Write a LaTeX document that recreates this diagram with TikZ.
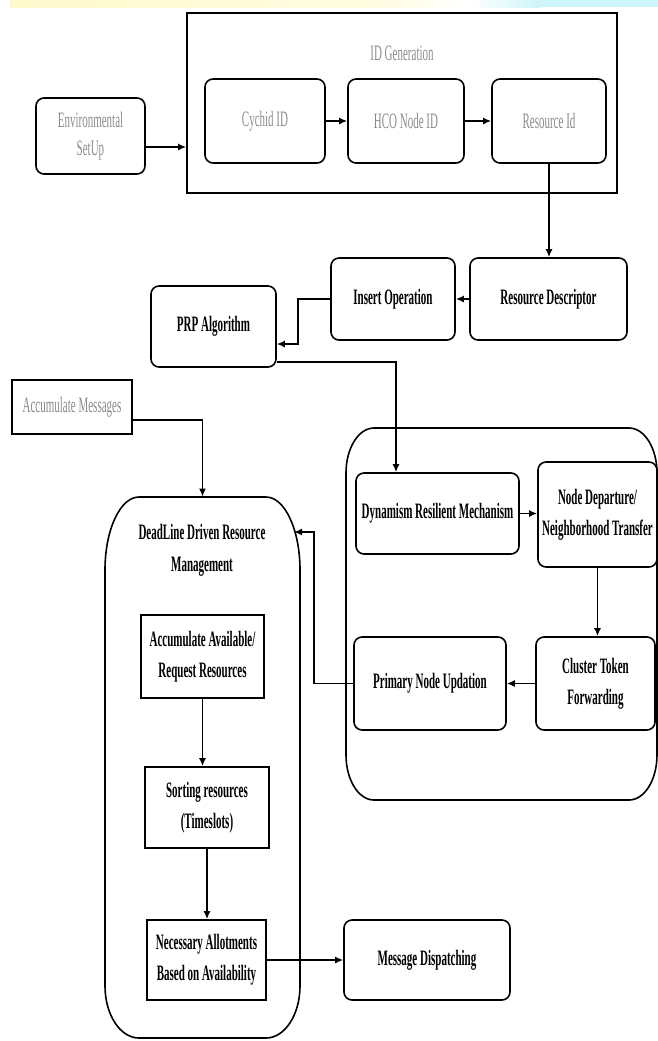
\documentclass[tikz,border=0pt]{standalone}
\usepackage{fontspec}
\setmainfont{Liberation Serif}[FakeStretch=0.5]
\usetikzlibrary{arrows.meta}
\definecolor{labelgray}{RGB}{140,140,140}
\definecolor{banneryellow}{RGB}{255,250,205}
\definecolor{bannercyan}{RGB}{205,245,250}
\tikzset{
  box/.style={draw, line width=0.8pt, rounded corners=4pt, align=center, inner sep=0pt,
    font=\bfseries\fontsize{11}{15.5}\selectfont},
  plainbox/.style={box, rounded corners=0pt},
  greytext/.style={text=labelgray, font=\fontsize{11}{14}\selectfont},
  link/.style={line width=0.8pt, -{Latex[length=4pt,width=3.5pt]}},
  boldlink/.style={line width=1.3pt},
}
\begin{document}
\begin{tikzpicture}[x=0.5pt,y=-0.5pt]
  \useasboundingbox (0,0) rectangle (658,1041);
  \shade[left color=banneryellow, right color=banneryellow!60] (10,0) rectangle (380,7);
  \shade[left color=banneryellow!60, right color=white] (380,0) rectangle (470,7);
  \shade[left color=white, right color=bannercyan] (470,0) rectangle (540,7);
  \fill[bannercyan] (540,0) rectangle (658,7);
  \node[plainbox, minimum width=215pt, minimum height=90pt] (idgen) at (402,103) {};
  \node[greytext] (idgentitle) at (402,53) {ID Generation};
  \node[box, greytext, minimum width=54.5pt, minimum height=38pt] (env) at (90.5,136) {Environmental\\SetUp};
  \node[box, greytext, minimum width=60pt, minimum height=42pt] (cychid) at (265,121) {Cychid ID};
  \node[box, greytext, minimum width=58pt, minimum height=42pt] (hco) at (406,121) {HCO Node ID};
  \node[box, greytext, minimum width=57pt, minimum height=42pt] (resid) at (549,121) {Resource Id};
  \node[box, minimum width=78.5pt, minimum height=41pt] (resdesc) at (548.5,299) {Resource Descriptor};
  \node[box, minimum width=62pt, minimum height=41pt] (insop) at (393,299) {Insert Operation};
  \node[box, minimum width=62.5pt, minimum height=40.5pt] (prp) at (213.5,326.5) {PRP Algorithm};
  \node[plainbox, greytext, minimum width=60pt, minimum height=27pt] (accmsg) at (72,407) {Accumulate Messages};
  \draw[line width=0.8pt] (346,473) arc[start angle=180, end angle=270, x radius=28, y radius=45]
    -- (629,428) arc[start angle=270, end angle=360, x radius=28, y radius=45]
    -- (657,755) arc[start angle=0, end angle=90, x radius=28, y radius=45]
    -- (374,800) arc[start angle=90, end angle=180, x radius=28, y radius=45] -- cycle;
  \node[box, minimum width=81.5pt, minimum height=40.5pt] (drm) at (437.5,513.5) {Dynamism Resilient Mechanism};
  \node[box, minimum width=59.5pt, minimum height=52.5pt] (ndnt) at (597.5,514.5) {Node Departure/\\Neighborhood Transfer};
  \node[box, minimum width=59.5pt, minimum height=46.5pt] (ctf) at (595.5,683.5) {Cluster Token\\Forwarding};
  \node[box, minimum width=76pt, minimum height=46.5pt] (pnu) at (430,683.5) {Primary Node Updation};
  \node[minimum width=97.5pt, minimum height=270.5pt, inner sep=0pt] (dlr) at (202.5,767.5) {};
  \draw[line width=0.8pt] (105,570) arc[start angle=180, end angle=270, x radius=34, y radius=73]
    -- (266,497) arc[start angle=270, end angle=360, x radius=34, y radius=73]
    -- (300,986) arc[start angle=0, end angle=90, x radius=34, y radius=52]
    -- (139,1038) arc[start angle=90, end angle=180, x radius=34, y radius=52] -- cycle;
  \node[align=center, font=\bfseries\fontsize{11}{16}\selectfont] (dlrtitle) at (202,550) {DeadLine Driven Resource\\Management};
  \node[plainbox, minimum width=61.5pt, minimum height=41.5pt] (accav) at (202.5,656.5) {Accumulate Available/\\Request Resources};
  \node[plainbox, minimum width=62pt, minimum height=40.5pt] (sortr) at (207,807.5) {Sorting resources\\(Timeslots)};
  \node[plainbox, minimum width=59.5pt, minimum height=40pt] (necal) at (206.5,960) {Necessary Allotments\\Based on Availability};
  \node[box, minimum width=83pt, minimum height=40pt] (msgd) at (427,960) {Message Dispatching};
  \coordinate (dlrin) at (294,532);
  \begin{scope}[link]
    \path ([yshift=-5.5pt]env.east) coordinate (envout);
    \draw[boldlink] (envout) -- (envout -| idgen.west);
    \draw (cychid) -- (hco);
    \draw (hco) -- (resid);
    \draw (resid.south) -- (resid.south |- resdesc.north);
    \draw (resdesc) -- (insop);
    \draw (insop.west) -- ++(-32,0) |- ([yshift=-8.75pt]prp.east);
    \draw ([yshift=-17.75pt]prp.east) -| ([xshift=-20.75pt]drm.north);
    \draw ([yshift=-6.5pt]accmsg.east) -| (dlr.north);
    \draw (drm.east) -- (drm.east -| ndnt.west);
    \draw (ndnt.south) -- (ndnt.south |- ctf.north);
    \draw (ctf) -- (pnu);
    \draw (pnu.west) -- ++(-39,0) |- (dlrin);
    \draw (accav.south) -- (accav.south |- sortr.north);
    \draw (sortr.south) -- (sortr.south |- necal.north);
    \draw[boldlink] (necal) -- (msgd);
  \end{scope}
\end{tikzpicture}
\end{document}
